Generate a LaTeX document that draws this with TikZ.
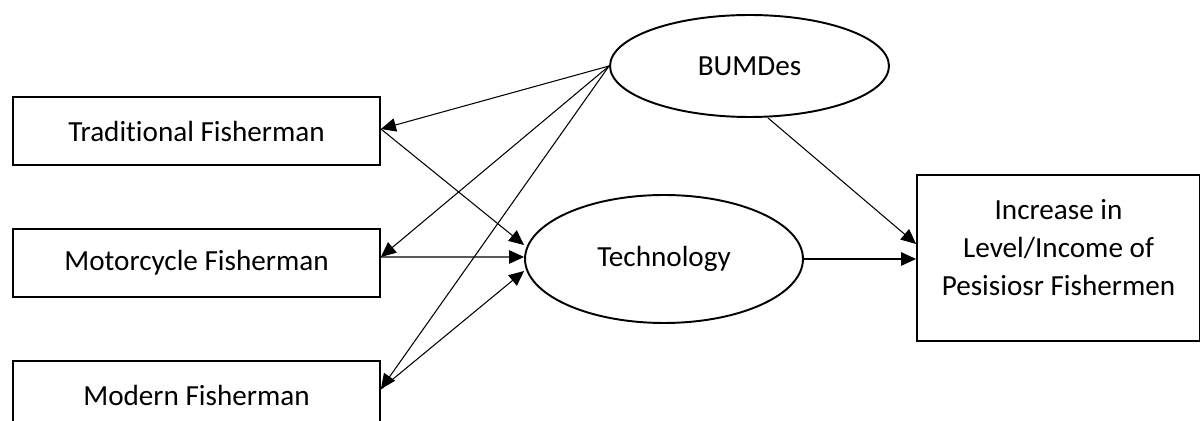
\documentclass[tikz,border=0pt]{standalone}
\usepackage{fontspec}
\setmainfont{Carlito}[Ligatures=NoCommon]
\usetikzlibrary{shapes.geometric,arrows.meta}

\begin{document}
\begin{tikzpicture}[x=0.02cm,y=-0.02cm,
  font=\fontsize{16.6}{21.6}\selectfont,
  actor/.style={draw,line width=1.1pt,rectangle,minimum width=7.34cm,minimum height=1.36cm,inner sep=0pt},
  factor/.style={draw,line width=1.1pt,ellipse,inner sep=0pt},
  link/.style={line width=0.6pt,-{Triangle[length=0.3cm,width=0.27cm]}}]
  \clip (0,0) rectangle (1200,421);
  \fill[white] (0,0) rectangle (1200,421);

  % fishermen groups
  \node[actor] (tf)  at (196.5,131) {Traditional Fisherman};
  \node[actor] (mf)  at (196.5,263) {Motorcycle Fisherman};
  \node[actor] (mod) at (196.5,395) {Modern Fisherman};

  % mediating factors
  \node[factor,minimum width=5.58cm,minimum height=2.04cm] (bum) at (749.5,66) {BUMDes};
  \node[factor,minimum width=5.56cm,minimum height=2.56cm] (tech) at (664,259) {Technology};

  % outcome
  \node[draw,line width=1.1pt,rectangle,minimum width=5.66cm,minimum height=3.32cm,inner sep=0pt,
        label={[align=center,yshift=0.2cm]center:Increase in\\Level/Income of\\Pesisiosr Fishermen}]
        (inc) at (1058.5,258) {};

  % BUMDes to each group
  \draw[link] (bum.west) -- ([yshift=0.04cm]tf.east);
  \draw[link] (bum.west) -- ([yshift=0.12cm]mf.east);
  \draw[link] (bum.west) -- ([yshift=0.12cm]mod.east);

  % groups to technology
  \draw[link] ([yshift=0.04cm]tf.east) -- ([yshift=0.28cm]tech.west);
  \draw[link] ([yshift=0.12cm]mf.east) -- ([yshift=0.04cm]tech.west);
  \draw[link] ([yshift=0.12cm]mod.east) -- ([yshift=-0.24cm]tech.west);

  % to the outcome
  \draw[link] ([xshift=0.37cm]bum.south) -- ([yshift=0.28cm]inc.west);
  \draw[link] (tech.east) -- (tech.east -| inc.west);
\end{tikzpicture}
\end{document}
